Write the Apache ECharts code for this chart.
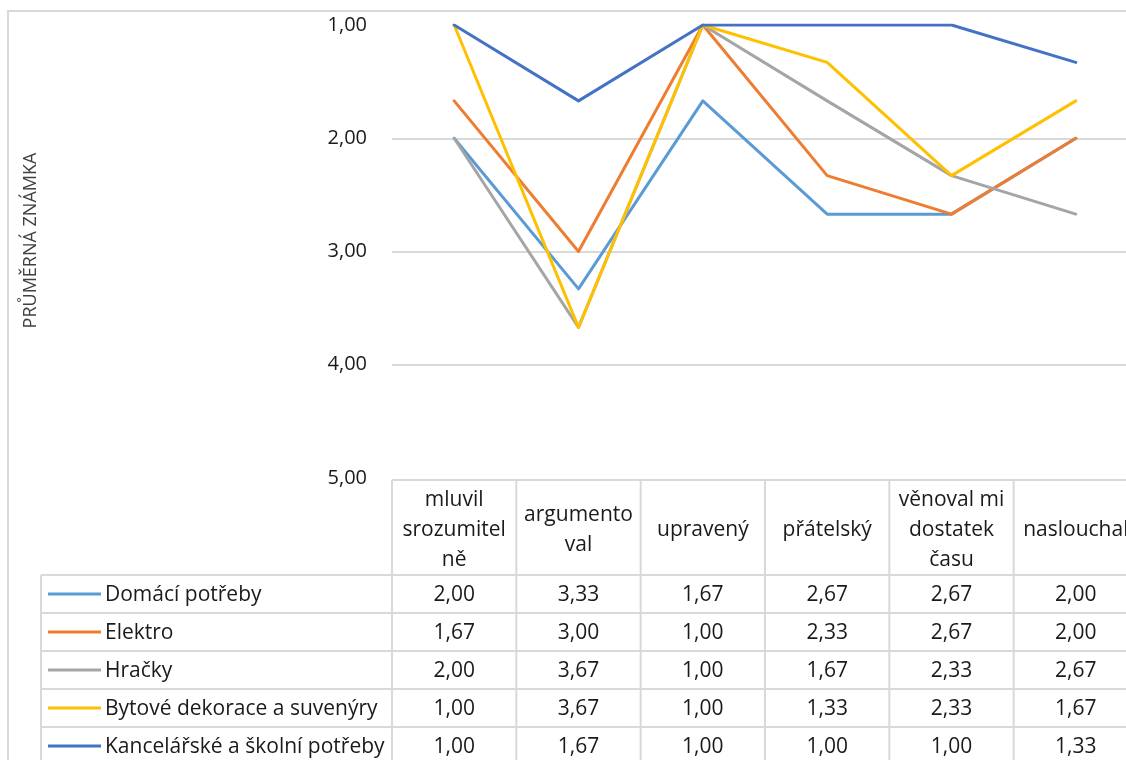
<!DOCTYPE html>
<html>
<head>
<meta charset="utf-8">
<script src="https://cdn.jsdelivr.net/npm/echarts@6/dist/echarts.min.js"></script>
<style>
  html, body { margin: 0; padding: 0; background: #fff; }
  #chart { width: 1126px; height: 760px; }
</style>
</head>
<body>
<div id="chart"></div>
<script>
// Category header labels (wrapped as in the table header)
const categories = [
  'mluvil\nsrozumitel\nně',
  'argumento\nval',
  'upravený',
  'přátelský',
  'věnoval mi\ndostatek\nčasu',
  'naslouchal'
];

const seriesNames = [
  'Domácí potřeby',
  'Elektro',
  'Hračky',
  'Bytové dekorace a suvenýry',
  'Kancelářské a školní potřeby'
];

const domaciPotreby = [2.00, 3.33, 1.67, 2.67, 2.67, 2.00];
const elektro       = [1.67, 3.00, 1.00, 2.33, 2.67, 2.00];
const hracky        = [2.00, 3.67, 1.00, 1.67, 2.33, 2.67];
const bytoveDekorace = [1.00, 3.67, 1.00, 1.33, 2.33, 1.67];
const kancelarske   = [1.00, 1.67, 1.00, 1.00, 1.00, 1.33];

const seriesValues = [domaciPotreby, elektro, hracky, bytoveDekorace, kancelarske];
const seriesColors = ['#5B9BD5', '#ED7D31', '#A5A5A5', '#FFC000', '#4472C4'];

const yTicks = [1, 2, 3, 4, 5];
const gridLineValues = [2, 3, 4];

const FONT = '"Open Sans"';
const TEXT_COLOR = '#1a1a1a';
const TABLE_FONT_SIZE = 21;
const fmt = v => v.toFixed(2).replace('.', ',');

const chart = echarts.init(document.getElementById('chart'), null, { renderer: 'canvas' });

const baseOption = {
  animation: false,
  backgroundColor: '#ffffff',
  grid: { left: 392, width: 746, top: 25, bottom: 282, containLabel: false, outerBoundsMode: 'none' },
  xAxis: {
    type: 'category',
    data: categories,
    boundaryGap: true,
    axisLine: { show: false },
    axisTick: { show: false },
    splitLine: { show: false },
    axisLabel: {
      interval: 0,
      hideOverlap: false,
      margin: 52,
      verticalAlign: 'middle',
      lineHeight: 30,
      fontFamily: FONT,
      fontSize: TABLE_FONT_SIZE,
      color: TEXT_COLOR
    }
  },
  yAxis: {
    type: 'value',
    inverse: true,
    min: yTicks[0],
    max: yTicks[yTicks.length - 1],
    interval: 1,
    name: 'PRŮMĚRNÁ ZNÁMKA',
    nameLocation: 'middle',
    nameRotate: 90,
    nameGap: 352,
    nameTextStyle: { fontFamily: FONT, fontSize: 18, color: '#404040', padding: [0, 0, 0, 22] },
    axisLine: { show: false },
    axisTick: { show: false },
    splitLine: { show: false },
    axisLabel: {
      margin: 25,
      fontFamily: FONT,
      fontSize: 20,
      color: TEXT_COLOR,
      formatter: v => fmt(v)
    }
  },
  series: seriesNames.map((name, i) => ({
    name: name,
    type: 'line',
    data: seriesValues[i],
    symbol: 'none',
    lineStyle: { width: 3, color: seriesColors[i], cap: 'round', join: 'round' },
    itemStyle: { color: seriesColors[i] },
    z: 10 + i,
    markLine: i === 0 ? {
      silent: true,
      symbol: 'none',
      label: { show: false },
      lineStyle: { color: '#d9d9d9', width: 2, type: 'solid' },
      data: gridLineValues.map(v => ({ yAxis: v })),
      z: 1
    } : undefined
  }))
};

chart.setOption(baseOption);

// Data table under the plot, positioned from the axis scales
const colCenters = categories.map((c, i) => chart.convertToPixel({ xAxisIndex: 0 }, i));
const colW = colCenters.length > 1 ? colCenters[1] - colCenters[0] : 124;
const colEdges = colCenters.map(c => c - colW / 2).concat([colCenters[colCenters.length - 1] + colW / 2]);
const headerTop = chart.convertToPixel({ yAxisIndex: 0 }, yTicks[yTicks.length - 1]) + 2;
const headerBottom = 575;
const rowH = 38;
const tableLeft = 41;
const rowTops = seriesNames.map((n, i) => headerBottom + i * rowH);
const tableBottom = headerBottom + seriesNames.length * rowH;

const lineStyle = { stroke: '#d9d9d9', lineWidth: 2 };
const g = [];

// chart border
g.push({ type: 'rect', shape: { x: 8, y: 11, width: 1300, height: 900 },
  style: { fill: 'none', stroke: '#d9d9d9', lineWidth: 2 }, z: 0 });

// header row border
g.push({ type: 'line', shape: { x1: colEdges[0], y1: headerTop, x2: colEdges[colEdges.length - 1], y2: headerTop }, style: lineStyle });
// horizontal row lines
rowTops.concat([tableBottom]).forEach(y => {
  g.push({ type: 'line', shape: { x1: tableLeft, y1: y, x2: colEdges[colEdges.length - 1], y2: y }, style: lineStyle });
});
// vertical lines
colEdges.forEach(x => {
  g.push({ type: 'line', shape: { x1: x, y1: headerTop, x2: x, y2: tableBottom }, style: lineStyle });
});
g.push({ type: 'line', shape: { x1: tableLeft, y1: headerBottom, x2: tableLeft, y2: tableBottom }, style: lineStyle });

// legend keys and values
seriesNames.forEach((name, r) => {
  const cy = rowTops[r] + rowH / 2;
  g.push({ type: 'line', shape: { x1: 48, y1: cy, x2: 101, y2: cy },
    style: { stroke: seriesColors[r], lineWidth: 3 } });
  g.push({ type: 'text', x: 105, y: cy + 1,
    style: { text: name, fontFamily: FONT, fontSize: TABLE_FONT_SIZE, fill: TEXT_COLOR, align: 'left', verticalAlign: 'middle' } });
  seriesValues[r].forEach((v, c) => {
    g.push({ type: 'text', x: colCenters[c], y: cy + 1,
      style: { text: fmt(v), fontFamily: FONT, fontSize: TABLE_FONT_SIZE, fill: TEXT_COLOR, align: 'center', verticalAlign: 'middle' } });
  });
});

chart.setOption({ graphic: { elements: g } });
</script>
</body>
</html>
